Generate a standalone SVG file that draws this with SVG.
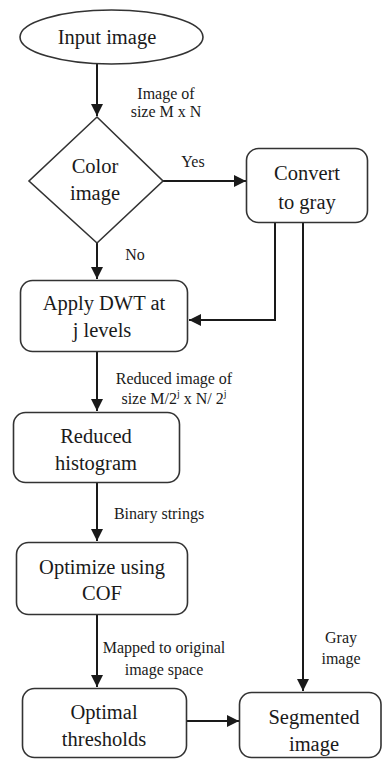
<svg xmlns="http://www.w3.org/2000/svg" width="382" height="760" viewBox="0 0 382 760">
<style>
.node{fill:#fff;stroke:#333;stroke-width:1.6}
.nt{font-size:20.5px;fill:#1a1a1a;text-anchor:middle;dominant-baseline:central}
.lt{font-size:16px;fill:#1a1a1a;text-anchor:middle;dominant-baseline:central}
.edge{fill:none;stroke:#1a1a1a;stroke-width:2}
</style>
<defs>
<marker id="ah" markerUnits="userSpaceOnUse" markerWidth="14" markerHeight="12" refX="12" refY="6" orient="auto">
<path d="M0,0 L12,6 L0,12 Z" fill="#1a1a1a"/>
</marker>
</defs>
<rect width="382" height="760" fill="#fff"/>
<g id="connectors" font-family="'Liberation Serif', 'DejaVu Serif', serif">
<path class="edge" d="M97,64 V116" marker-end="url(#ah)"/>
<path class="edge" d="M163,181 H246" marker-end="url(#ah)"/>
<path class="edge" d="M97,243 V279" marker-end="url(#ah)"/>
<path class="edge" d="M275,223 V320 H189" marker-end="url(#ah)"/>
<path class="edge" d="M303,223 V691" marker-end="url(#ah)"/>
<path class="edge" d="M97,352 V411" marker-end="url(#ah)"/>
<path class="edge" d="M97,482 V541" marker-end="url(#ah)"/>
<path class="edge" d="M97,615 V687" marker-end="url(#ah)"/>
<path class="edge" d="M187,721 H239" stroke-width="2.5" marker-end="url(#ah)"/>
<text class="lt" x="166" y="93">Image of</text>
<text class="lt" x="166" y="111">size M x N</text>
<text class="lt" x="193" y="161">Yes</text>
<text class="lt" x="135" y="254">No</text>
<text class="lt" x="174" y="378">Reduced image of</text>
<text class="lt" x="174" y="398">size M/2<tspan font-size="10" dy="-5">j</tspan><tspan dy="5"> x N/ 2</tspan><tspan font-size="10" dy="-5">j</tspan></text>
<text class="lt" x="159" y="513">Binary strings</text>
<text class="lt" x="164" y="647">Mapped to original</text>
<text class="lt" x="164" y="669">image space</text>
<text class="lt" x="341" y="637">Gray</text>
<text class="lt" x="341" y="658">image</text>
</g>
<g font-family="'Liberation Serif', 'DejaVu Serif', serif">
<g id="input">
<ellipse class="node" cx="111.5" cy="37" rx="91.5" ry="27"/>
<text class="nt" x="107" y="37">Input image</text>
</g>
<g id="color">
<polygon class="node" points="97,117 163,181 97,243 29,181"/>
<text class="nt" x="95" y="166">Color</text>
<text class="nt" x="95" y="193">image</text>
</g>
<g id="convert">
<rect class="node" x="246.5" y="148.5" width="121" height="74" rx="12"/>
<text class="nt" x="307" y="173">Convert</text>
<text class="nt" x="307" y="202">to gray</text>
</g>
<g id="dwt">
<rect class="node" x="20.5" y="280.5" width="167" height="71" rx="12"/>
<text class="nt" x="104" y="303">Apply DWT at</text>
<text class="nt" x="102" y="330">j levels</text>
</g>
<g id="hist">
<rect class="node" x="13.5" y="412.5" width="166" height="70" rx="12"/>
<text class="nt" x="96" y="436">Reduced</text>
<text class="nt" x="96" y="463">histogram</text>
</g>
<g id="optimize">
<rect class="node" x="16.5" y="542.5" width="171" height="72" rx="12"/>
<text class="nt" x="102" y="567">Optimize using</text>
<text class="nt" x="102" y="593">COF</text>
</g>
<g id="optimal">
<rect class="node" x="22.5" y="688.5" width="164" height="69" rx="12"/>
<text class="nt" x="104" y="712">Optimal</text>
<text class="nt" x="104" y="739">thresholds</text>
</g>
<g id="segmented">
<rect class="node" x="239.5" y="692.5" width="141.5" height="65" rx="12"/>
<text class="nt" x="314" y="717">Segmented</text>
<text class="nt" x="314" y="744">image</text>
</g>
</g>
</svg>
